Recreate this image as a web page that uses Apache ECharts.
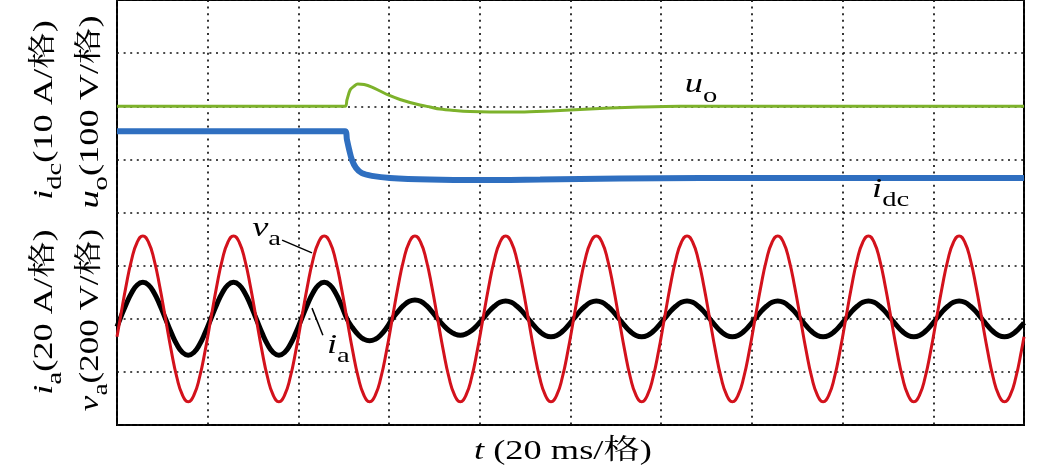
<!DOCTYPE html>
<html><head><meta charset="utf-8">
<script src="https://cdn.jsdelivr.net/npm/echarts@6/dist/echarts.min.js"></script>
<style>html,body{margin:0;padding:0;background:#fff}#c{width:1048px;height:473px}</style>
</head><body><div id="c"></div>
<script>
// time axis: 0..200 ms (20 ms per division); waveform samples read every 1.25 ms
const tWave = [0,
  0.7, 1.95, 3.2, 4.45, 5.7, 6.95, 8.2, 9.45, 10.7, 11.95, 13.2, 14.45, 15.7, 16.95, 18.2, 19.45,
  20.7, 21.95, 23.2, 24.45, 25.7, 26.95, 28.2, 29.45, 30.7, 31.95, 33.2, 34.45, 35.7, 36.95, 38.2, 39.45,
  40.7, 41.95, 43.2, 44.45, 45.7, 46.95, 48.2, 49.45, 50.7, 51.95, 53.2, 54.45, 55.7, 56.95, 58.2, 59.45,
  60.7, 61.95, 63.2, 64.45, 65.7, 66.95, 68.2, 69.45, 70.7, 71.95, 73.2, 74.45, 75.7, 76.95, 78.2, 79.45,
  80.7, 81.95, 83.2, 84.45, 85.7, 86.95, 88.2, 89.45, 90.7, 91.95, 93.2, 94.45, 95.7, 96.95, 98.2, 99.45,
  100.7, 101.95, 103.2, 104.45, 105.7, 106.95, 108.2, 109.45, 110.7, 111.95, 113.2, 114.45, 115.7, 116.95, 118.2, 119.45,
  120.7, 121.95, 123.2, 124.45, 125.7, 126.95, 128.2, 129.45, 130.7, 131.95, 133.2, 134.45, 135.7, 136.95, 138.2, 139.45,
  140.7, 141.95, 143.2, 144.45, 145.7, 146.95, 148.2, 149.45, 150.7, 151.95, 153.2, 154.45, 155.7, 156.95, 158.2, 159.45,
  160.7, 161.95, 163.2, 164.45, 165.7, 166.95, 168.2, 169.45, 170.7, 171.95, 173.2, 174.45, 175.7, 176.95, 178.2, 179.45,
  180.7, 181.95, 183.2, 184.45, 185.7, 186.95, 188.2, 189.45, 190.7, 191.95, 193.2, 194.45, 195.7, 196.95, 198.2, 199.45,
  200];
// grid phase voltage v_a (V), 200 V/div
const vaV = [-68,
  0, 119, 221, 288, 312, 288, 221, 119, 0, -119, -221, -288, -312, -288, -221, -119,
  0, 119, 221, 288, 312, 288, 221, 119, 0, -119, -221, -288, -312, -288, -221, -119,
  0, 119, 221, 288, 312, 288, 221, 119, 0, -119, -221, -288, -312, -288, -221, -119,
  0, 119, 221, 288, 312, 288, 221, 119, 0, -119, -221, -288, -312, -288, -221, -119,
  0, 119, 221, 288, 312, 288, 221, 119, 0, -119, -221, -288, -312, -288, -221, -119,
  0, 119, 221, 288, 312, 288, 221, 119, 0, -119, -221, -288, -312, -288, -221, -119,
  0, 119, 221, 288, 312, 288, 221, 119, 0, -119, -221, -288, -312, -288, -221, -119,
  0, 119, 221, 288, 312, 288, 221, 119, 0, -119, -221, -288, -312, -288, -221, -119,
  0, 119, 221, 288, 312, 288, 221, 119, 0, -119, -221, -288, -312, -288, -221, -119,
  0, 119, 221, 288, 312, 288, 221, 119, 0, -119, -221, -288, -312, -288, -221, -119,
  -68];
// grid phase current i_a (A), 20 A/div
const iaA = [-3,
  0, 5.2, 9.7, 12.7, 13.7, 12.7, 9.7, 5.2, 0, -5.2, -9.7, -12.7, -13.7, -12.7, -9.7, -5.2,
  0, 5.2, 9.7, 12.7, 13.7, 12.7, 9.7, 5.2, 0, -5.2, -9.7, -12.7, -13.7, -12.7, -9.7, -5.2,
  0, 5.2, 9.7, 12.7, 13.7, 12.7, 9.7, 5.2, 0, -3.4, -6.0, -7.7, -8.3, -7.7, -6.0, -3.4,
  0, 2.7, 5.0, 6.6, 7.1, 6.6, 5.0, 2.7, 0, -2.4, -4.4, -5.7, -6.2, -5.7, -4.4, -2.4,
  0, 2.6, 4.7, 6.2, 6.7, 6.2, 4.7, 2.6, 0, -2.6, -4.8, -6.3, -6.8, -6.3, -4.8, -2.6,
  0, 2.6, 4.7, 6.2, 6.7, 6.2, 4.7, 2.6, 0, -2.6, -4.8, -6.3, -6.8, -6.3, -4.8, -2.6,
  0, 2.6, 4.7, 6.2, 6.7, 6.2, 4.7, 2.6, 0, -2.6, -4.8, -6.3, -6.8, -6.3, -4.8, -2.6,
  0, 2.6, 4.7, 6.2, 6.7, 6.2, 4.7, 2.6, 0, -2.6, -4.8, -6.3, -6.8, -6.3, -4.8, -2.6,
  0, 2.6, 4.7, 6.2, 6.7, 6.2, 4.7, 2.6, 0, -2.6, -4.8, -6.3, -6.8, -6.3, -4.8, -2.6,
  0, 2.6, 4.7, 6.2, 6.7, 6.2, 4.7, 2.6, 0, -2.6, -4.8, -6.3, -6.8, -6.3, -4.8, -2.6,
  -1.5];
// DC output voltage u_o (V), 100 V/div
const tUo = [0, 50.3, 50.7, 51.4, 52.3, 53.1, 54.5, 56.2, 58.0, 59.8, 62.4, 64.6, 66.8, 69.0, 71.2, 74.5, 77.8, 82.2, 88.9, 95.5, 102.1, 108.7, 115.3, 124.1, 200];
const uoV = [200, 200, 211.8, 230.6, 238, 241.9, 240.9, 236.2, 228.7, 221.2, 212.7, 207.1, 202.4, 198.6, 194.8, 192, 190.1, 189.2, 189.2, 191.1, 193.9, 196.7, 198.6, 200, 200];
// DC current i_dc (A), 10 A/div
const tIdc = [0, 50.3, 50.7, 51.2, 51.8, 52.7, 54.0, 56.2, 60.2, 69.0, 80.0, 93.3, 110.9, 128.6, 200];
const idcA = [15.3, 15.3, 13.7, 11.8, 9.9, 8.4, 7.4, 6.9, 6.5, 6.2, 6.1, 6.2, 6.4, 6.5, 6.5];

// channel scales (units per division) and zero levels (division index from bottom)
const CH = { va: [200, 2], ia: [20, 2], uo: [100, 4], idc: [10, 4] };

const FONT = "'Liberation Serif','Times New Roman','Noto Serif CJK SC','Noto Sans CJK SC',serif";
function toDiv(ts, vs, ch) { return ts.map((t, i) => [t, ch[1] + vs[i] / ch[0]]); }

const chart = echarts.init(document.getElementById('c'), null, { renderer: 'canvas' });
const dotted = { color: '#111', width: 1.7, type: [2, 4.6] };
chart.setOption({
  animation: false,
  grid: { left: 117, top: 0, right: 24, bottom: 48, show: true, borderColor: '#000', borderWidth: 2 },
  xAxis: { type: 'value', min: 0, max: 200, interval: 20, axisLine: { show: false }, axisTick: { show: false },
    axisLabel: { show: false }, splitLine: { show: true, lineStyle: dotted } },
  yAxis: { type: 'value', min: 0, max: 8, interval: 1, axisLine: { show: false }, axisTick: { show: false },
    axisLabel: { show: false }, splitLine: { show: true, lineStyle: dotted } },
  series: [
    { type: 'line', data: toDiv(tUo, uoV, CH.uo), showSymbol: false, smooth: 0.3,
      lineStyle: { color: '#7db22b', width: 3 } },
    { type: 'line', data: toDiv(tIdc, idcA, CH.idc), showSymbol: false, smooth: 0.3,
      lineStyle: { color: '#2f6fc0', width: 6 } },
    { type: 'line', data: toDiv(tWave, iaA, CH.ia), showSymbol: false, smooth: 0.5,
      lineStyle: { color: '#000', width: 5 } },
    { type: 'line', data: toDiv(tWave, vaV, CH.va), showSymbol: false, smooth: 0.5,
      lineStyle: { color: '#d3121c', width: 3 } }
  ]
});

const F = 28;
function rich() {
  const base = { fontFamily: FONT, fontSize: F, lineHeight: 44, fill: '#000' };
  return {
    it: Object.assign({}, base, { fontStyle: 'italic' }),
    n: Object.assign({}, base),
    sub: Object.assign({}, base, { fontSize: 22, lineHeight: 22, verticalAlign: 'bottom' })
  };
}
function txt(text, x, y, opts) {
  return Object.assign({ type: 'text', x: x, y: y, scaleX: 1.3, z: 100,
    style: { text: text, rich: rich(), align: 'center', verticalAlign: 'middle', fill: '#000' } }, opts || {});
}
const P = (t, d) => chart.convertToPixel({ gridIndex: 0 }, [t, d]);
const mid = 0.34 * F;
// annotation anchors (data coords: ms, division)
const lblVa = P(29.8, 3.52), lblIa = P(46.3, 1.32), lblUo = P(125.2, 6.22), lblIdc = P(166.5, 4.25);
const ldVa = [P(36.4, 3.48), P(43.0, 3.24)], ldIa = [P(43.0, 2.20), P(45.4, 1.69)];
function ann(text, p) {
  const g = txt(text, p[0], p[1] - mid);
  g.style.align = 'left';
  return g;
}
function leader(a) {
  return { type: 'line', z: 100, shape: { x1: a[0][0], y1: a[0][1], x2: a[1][0], y2: a[1][1] },
    style: { stroke: '#000', lineWidth: 1.5 } };
}
chart.setOption({
  graphic: [
    txt('{it|t}{n| (20 ms/格)}', 563, 461 - mid),
    txt('{it|i}{sub|dc}{n|(10 A/格)}', 54 - mid, 110, { rotation: Math.PI / 2 }),
    txt('{it|u}{sub|o}{n|(100 V/格)}', 100 - mid, 112, { rotation: Math.PI / 2 }),
    txt('{it|i}{sub|a}{n|(20 A/格)}', 54 - mid, 312, { rotation: Math.PI / 2 }),
    txt('{it|v}{sub|a}{n|(200 V/格)}', 100 - mid, 320, { rotation: Math.PI / 2, scaleX: 1.25 }),
    ann('{it|v}{sub|a}', lblVa),
    ann('{it|i}{sub|a}', lblIa),
    ann('{it|u}{sub|o}', lblUo),
    ann('{it|i}{sub|dc}', lblIdc),
    leader(ldVa),
    leader(ldIa)
  ]
});
</script>
</body></html>
